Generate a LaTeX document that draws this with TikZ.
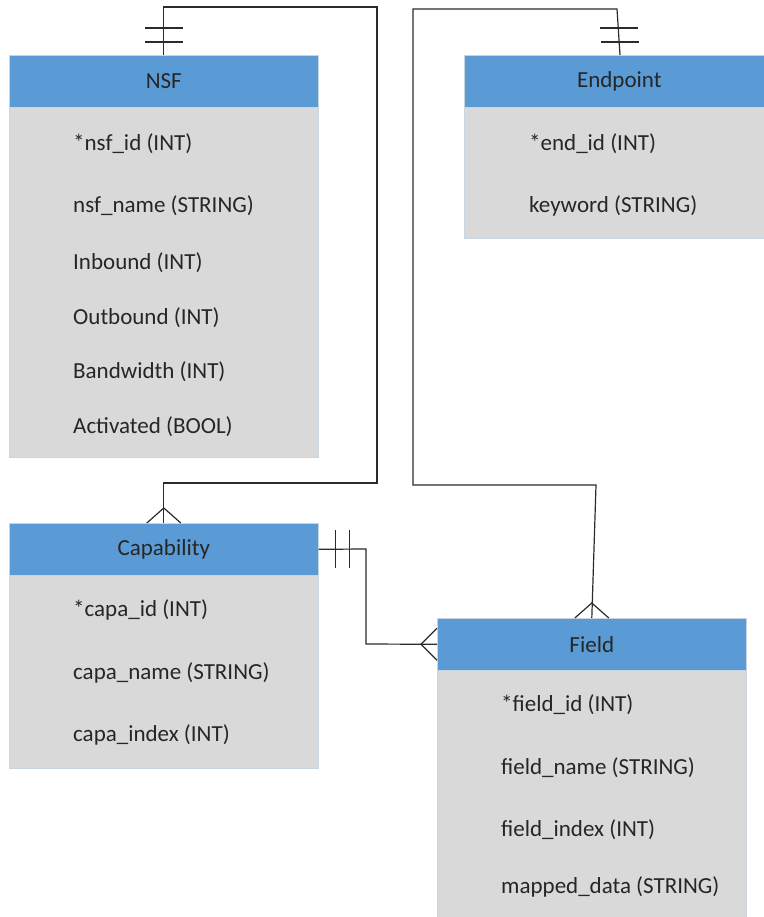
\documentclass[tikz,border=0pt]{standalone}
\usepackage{fontspec}
\setmainfont{Carlito}
\definecolor{hdr}{HTML}{5B9BD5}
\definecolor{bdy}{HTML}{D9D9D9}
\definecolor{edgec}{HTML}{CAD5E2}
\definecolor{txt}{HTML}{262626}
\definecolor{lnc}{HTML}{2B2B2B}
\tikzset{
  bodybox/.style={fill=bdy, draw=edgec, line width=1pt, anchor=north west, inner sep=0pt},
  hdrbox/.style={fill=hdr, draw=edgec, line width=0.6pt, anchor=north west, inner sep=0pt,
     minimum height=52pt, font=\fontsize{23}{27}\selectfont, text=txt},
  attr/.style={anchor=west, inner sep=0pt, font=\fontsize{23}{27}\selectfont, text=txt},
  conn/.style={draw=lnc, line width=1.2pt},
  tickline/.style={draw=lnc, line width=1.2pt}
}
\begin{document}
\begin{tikzpicture}[x=1pt,y=-1pt]
\useasboundingbox (0,0) rectangle (763,917);
% NSF
\node[bodybox, minimum width=309pt, minimum height=402pt] (nsf) at (9,55) {};
\node[hdrbox, minimum width=309pt] (nsfh) at (9,55) {NSF};
\node[attr] (n1) at (73,144) {*nsf\_id (INT)};
\node[attr] (n2) at (73,206) {nsf\_name (STRING)};
\node[attr] (n3) at (73,263) {Inbound (INT)};
\node[attr] (n4) at (73,318) {Outbound (INT)};
\node[attr] (n5) at (73,372) {Bandwidth (INT)};
\node[attr] (n6) at (73,427) {Activated (BOOL)};
% Endpoint
\node[bodybox, minimum width=305pt, minimum height=183pt] (ep) at (464,55) {};
\node[hdrbox, minimum width=305pt, text width=310pt, align=center] (eph) at (464,55) {Endpoint};
\node[attr] (e1) at (529,144) {*end\_id (INT)};
\node[attr] (e2) at (529,206) {keyword (STRING)};
% Capability
\node[bodybox, minimum width=309pt, minimum height=245pt] (cap) at (9,523) {};
\node[hdrbox, minimum width=309pt] (caph) at (9,523) {Capability};
\node[attr] (c1) at (73,610) {*capa\_id (INT)};
\node[attr] (c2) at (73,673) {capa\_name (STRING)};
\node[attr] (c3) at (73,735) {capa\_index (INT)};
% Field
\node[bodybox, minimum width=309pt, minimum height=305pt] (fld) at (437,618) {};
\node[hdrbox, minimum width=309pt] (fldh) at (437,618) {Field};
\node[attr] (f1) at (501,705) {*field\_id (INT)};
\node[attr] (f2) at (501,768) {field\_name (STRING)};
\node[attr] (f3) at (501,830) {field\_index (INT)};
\node[attr] (f4) at (501,887) {mapped\_data (STRING)};

% NSF -- Capability
\coordinate (a1) at (377,7);
\coordinate (a2) at (377,483);
\draw[conn] (nsfh.north) |- (a1) -- (a2) -| (caph.north);
\draw[tickline] (nsfh.north) ++(-19,-27) -- ++(38,0);
\draw[tickline] (nsfh.north) ++(-19,-13) -- ++(38,0);
\draw[tickline] (caph.north) ++(-17,0) -- ++(17,-15) -- ++(17,15);

% Endpoint -- Field
\coordinate (eptop) at (620,55);
\coordinate (b0) at (617,9);
\coordinate (b1) at (413,9);
\coordinate (b2) at (413,485);
\coordinate (b3) at (596,485);
\draw[conn] (eptop) -- (b0) -- (b1) -- (b2) -- (b3) -- (fldh.north);
\draw[tickline] (eptop) ++(-20,-27) -- ++(38,0);
\draw[tickline] (eptop) ++(-19,-13) -- ++(38,0);
\draw[tickline] (fldh.north) ++(-17,0) -- ++(17,-15) -- ++(17,15);

% Capability -- Field
\coordinate (d1) at (366,549);
\coordinate (d2) at (366,644);
\draw[conn] (caph.east) -- (d1) -- (d2) -- (fldh.west);
\draw[tickline] (caph.east) ++(17,-19) -- ++(0,38);
\draw[tickline] (caph.east) ++(31,-19) -- ++(0,38);
\draw[tickline] (fldh.west) ++(0,-16) -- ++(-16,16) -- ++(16,16);
\end{tikzpicture}
\end{document}
